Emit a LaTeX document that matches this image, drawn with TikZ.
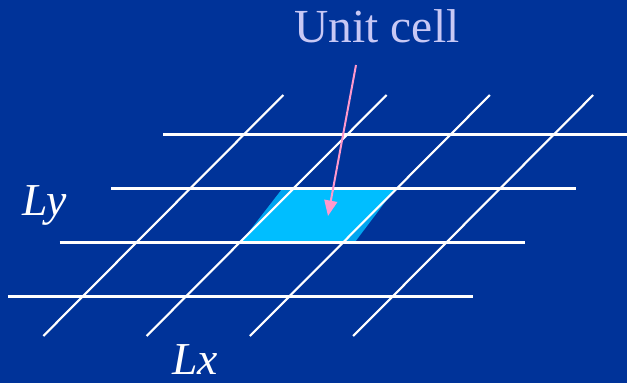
\documentclass[tikz,border=0pt]{standalone}
\usepackage{fontspec}
\setmainfont{Liberation Serif}
\usepackage{tikz}
\usetikzlibrary{arrows.meta, calc}
\definecolor{slideblue}{RGB}{0, 51, 153}
\definecolor{cellcyan}{RGB}{0, 190, 255}
\definecolor{cellshade}{RGB}{0, 165, 240}
\definecolor{pointerpink}{RGB}{255, 153, 204}
\definecolor{titlelilac}{RGB}{200, 200, 245}

\begin{document}
\begin{tikzpicture}[
    x=0.04cm, y=-0.04cm,
    gridline/.style={draw=white, line width=0.085cm},
    pointer/.style={-{Triangle[length=0.62cm, width=0.52cm]}, draw=pointerpink, line width=0.08cm},
    label/.style={inner sep=0pt, anchor=base, font=\fontsize{54pt}{60pt}\selectfont, text=titlelilac},
    axis/.style={inner sep=0pt, anchor=base west, text depth=0pt, font=\fontsize{52pt}{58pt}\selectfont\itshape, text=white}
]

    % Background
    \fill[slideblue] (0,0) rectangle (627,383);
    \useasboundingbox (0,0) rectangle (627,383);

    % Unit cell
    \fill[cellshade] (241,242) -- (282,189) -- (395,189) -- (355,242) -- cycle;
    \begin{scope}
        \clip (241,242) -- (282,189) -- (395,189) -- (355,242) -- cycle;
        \fill[cellcyan] (241,242) -- (294,189) -- (397,189) -- (344,242) -- cycle;
    \end{scope}

    % Grid
    \foreach \i in {0,...,3}
        \draw[gridline] ({163-51.7*\i}, {134.5+54*\i}) -- ({628-51.7*\i}, {134.5+54*\i});
    \foreach \j in {0,...,3}
        \draw[gridline] ({43.3+103.3*\j}, 336) -- ({283.3+103.3*\j}, 95);

    % Labels
    \node[label] (lbl) at (377,43) {Unit cell};
    \node[axis] (ly) at (22,215) {Ly};
    \node[axis] (lx) at (172,374) {Lx};

    % Pointer
    \coordinate (tail) at (356,65);
    \coordinate (tip) at (328,216);
    \draw[pointer] (tail) -- (tip);

\end{tikzpicture}
\end{document}
